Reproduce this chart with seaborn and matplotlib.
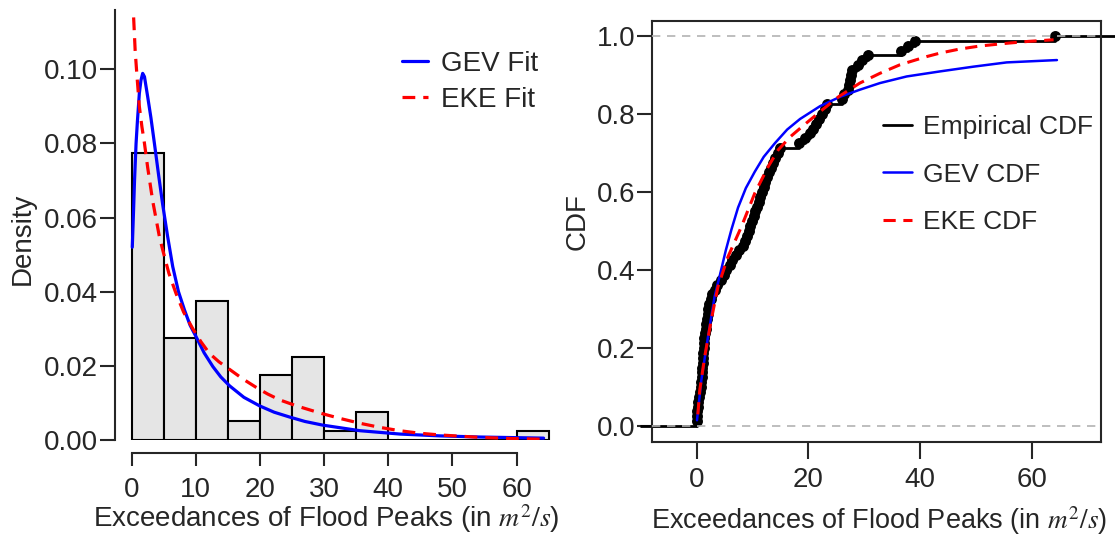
import numpy as np
import matplotlib
matplotlib.use("Agg")
import matplotlib.pyplot as plt
import seaborn as sns

flood_exceedances = [
    0.02, 0.04, 0.07, 0.17, 0.3, 0.45, 0.6, 0.75, 0.84, 0.9, 0.95, 1.02, 1.08,
    1.14, 1.2, 1.26, 1.32, 1.38, 1.45, 1.6, 1.72, 1.84, 1.96, 2.05, 2.25, 2.5,
    2.8, 3.2, 3.7, 4.3, 4.85,
    5.3, 5.9, 6.4, 7.0, 7.6, 8.2, 8.6, 9.0, 9.3, 9.6, 9.85,
    10.2, 10.5, 10.8, 11.1, 11.4, 11.7, 12.0, 12.3, 12.6, 12.9, 13.3, 13.7,
    14.1, 14.5, 14.9,
    18.3, 19.3,
    20.3, 20.9, 21.4, 21.9, 22.4, 22.9, 23.4,
    26.0, 26.4, 27.1, 27.3, 27.5, 27.6, 27.8, 28.8, 29.6,
    30.6,
    36.6, 37.9, 39.1,
    64.2,
]

# fitted densities
gev_pdf_x = [0.1, 0.3, 0.45, 0.69, 0.9, 1.2, 1.45, 1.72, 2.0, 2.5, 3.0, 3.55, 4.2,
             4.84, 5.6, 6.4, 7.3, 8.23, 9.1, 10.06, 11.3, 12.66, 13.9, 15.27, 17.5,
             19.95, 22.2, 24.6, 27.0, 29.8, 35.6, 41.8, 48.1, 54.3, 64.2]
gev_pdf_y = [0.052, 0.062, 0.070, 0.080, 0.086, 0.0935, 0.097, 0.0989, 0.098, 0.0926,
             0.087, 0.080, 0.0715, 0.0635, 0.055, 0.0468, 0.040, 0.0351, 0.031,
             0.0278, 0.0235, 0.0198, 0.0170, 0.0146, 0.0115, 0.0092, 0.0075, 0.0062,
             0.0050, 0.0040, 0.0025, 0.0016, 0.0011, 0.0008, 0.0005]
eke_pdf_x = [0.31, 0.55, 0.84, 1.2, 1.6, 2.0, 2.5, 3.28, 4.33, 4.84, 5.8, 6.9, 8.1,
             9.5, 10.8, 12.1, 13.6, 15.3, 17.3, 19.4, 21.2, 23.1, 25.7, 29.5, 32.5,
             35.6, 38.7, 41.8, 45.0, 48.1, 54.3, 59.0, 64.0]
eke_pdf_y = [0.114, 0.105, 0.098, 0.090, 0.0845, 0.080, 0.0735, 0.0645, 0.0548,
             0.0513, 0.0450, 0.0396, 0.0345, 0.0301, 0.0265, 0.0234, 0.0211, 0.0190,
             0.0165, 0.0142, 0.0124, 0.0108, 0.0092, 0.0072, 0.0058, 0.0045, 0.0034,
             0.0025, 0.0018, 0.00135, 0.0007, 0.0004, 0.0002]

# fitted CDFs
gev_cdf_x = [0.05, 0.83, 2.02, 3.2, 4.2, 5.2, 6.2, 7.4, 8.8, 10.4, 12.0, 14.0, 16.2,
             18.5, 22.1, 25.7, 29.2, 32.8, 37.6, 43.6, 49.5, 55.5, 64.5]
gev_cdf_y = [0.015, 0.118, 0.229, 0.332, 0.39, 0.45, 0.503, 0.56, 0.61, 0.652,
             0.69, 0.725, 0.76, 0.787, 0.82, 0.844, 0.862, 0.879, 0.896, 0.909,
             0.921, 0.932, 0.938]
eke_cdf_x = [0.2, 0.54, 1.43, 2.6, 3.8, 5.6, 8.0, 10.4, 12.8, 14.6, 16.8, 19.0,
             22.1, 25.4, 29.2, 32.8, 36.4, 41.2, 43.6, 47.0, 50.7, 55.5, 59.5, 63.9]
eke_cdf_y = [0.03, 0.092, 0.178, 0.272, 0.357, 0.434, 0.511, 0.597, 0.665, 0.708,
             0.742, 0.769, 0.806, 0.844, 0.879, 0.904, 0.926, 0.947, 0.956, 0.966,
             0.974, 0.981, 0.986, 0.990]

left_xticks = [0, 10, 20, 30, 40, 50, 60]
left_yticks = [0.00, 0.02, 0.04, 0.06, 0.08, 0.10]
right_xticks = [0, 20, 40, 60]
right_yticks = [0.0, 0.2, 0.4, 0.6, 0.8, 1.0]

xlabel_text = r"Exceedances of Flood Peaks (in $m^2/s$)"

sns.set_style("ticks")
plt.rcParams["font.family"] = ["Liberation Sans", "DejaVu Sans"]
plt.rcParams["mathtext.fontset"] = "stix"
plt.rcParams["axes.linewidth"] = 1.5

fig = plt.figure(figsize=(11.15, 5.35), dpi=100)
ax1 = fig.add_axes([0.1031, 0.1776, 0.3919, 0.8037])
ax2 = fig.add_axes([0.5845, 0.1744, 0.4030, 0.7870])

# ---- left: histogram + fitted densities
sns.histplot(x=flood_exceedances, stat="density", binwidth=5, binrange=(0, 65),
             color="#e5e5e5", edgecolor="black", linewidth=1.5, alpha=1, ax=ax1)
sns.lineplot(x=gev_pdf_x, y=gev_pdf_y, color="blue", lw=2.3, label="GEV Fit", ax=ax1)
sns.lineplot(x=eke_pdf_x, y=eke_pdf_y, color="red", lw=2.3,
             linestyle=(0, (4, 2.5)), label="EKE Fit", ax=ax1)

ax1.set_xlim(-2.6, 65.5)
ax1.set_ylim(0, 0.116)
ax1.set_xticks(left_xticks)
ax1.set_yticks(left_yticks)
ax1.spines["top"].set_visible(False)
ax1.spines["right"].set_visible(False)
ax1.spines["bottom"].set_position(("outward", 9.5))
ax1.spines["bottom"].set_bounds(0, 60)
ax1.spines["left"].set_bounds(0, 0.116)
ax1.tick_params(axis="both", direction="out", width=1.5, labelsize=20)
ax1.tick_params(axis="x", length=9, pad=8)
ax1.tick_params(axis="y", length=11, pad=1)
ax1.set_ylabel("Density", fontsize=20)
ax1.yaxis.set_label_coords(-0.181, 0.467)
ax1.set_xlabel(xlabel_text, fontsize=20)
ax1.xaxis.set_label_coords(0.483, -0.145)
ax1.legend(frameon=False, loc="upper left", bbox_to_anchor=(0.657, 0.905),
           fontsize=20, handlelength=0.95, handletextpad=0.45, labelspacing=0.35,
           borderpad=0, borderaxespad=0)

# ---- right: empirical CDF + fitted CDFs
ecdf_x = np.sort(flood_exceedances)
ecdf_y = np.arange(1, len(ecdf_x) + 1) / len(ecdf_x)

sns.ecdfplot(x=flood_exceedances, color="black", lw=2, ax=ax2, label="Empirical CDF")
ax2.hlines(0, -10.2, ecdf_x[0], color="black", lw=2, clip_on=False)
ax2.hlines(1, ecdf_x[-1], 80, color="black", lw=2, clip_on=False)
sns.scatterplot(x=ecdf_x, y=ecdf_y, color="black", s=62, linewidth=0, ax=ax2)
sns.lineplot(x=gev_cdf_x, y=gev_cdf_y, color="blue", lw=1.8, label="GEV CDF", ax=ax2)
sns.lineplot(x=eke_cdf_x, y=eke_cdf_y, color="red", lw=2.2,
             linestyle=(0, (4, 2.5)), label="EKE CDF", ax=ax2)
for level in (0, 1):
    ax2.axhline(level, color="#b3b3b3", lw=1.2, linestyle=(0, (5, 4)), zorder=5)

ax2.set_xlim(-8.06, 72.4)
ax2.set_ylim(-0.04, 1.039)
ax2.set_xticks(right_xticks)
ax2.set_yticks(right_yticks)
ax2.set_yticklabels([f"{v:.1f}" for v in right_yticks])
for side in ["top", "right", "bottom", "left"]:
    ax2.spines[side].set_visible(True)
    ax2.spines[side].set_linewidth(1.5)
ax2.tick_params(axis="both", direction="out", width=1.5, labelsize=20)
ax2.tick_params(axis="x", length=12, pad=6)
ax2.tick_params(axis="y", length=11, pad=1)
ax2.set_ylabel("CDF", fontsize=20)
ax2.yaxis.set_label_coords(-0.137, 0.522)
ax2.set_xlabel(xlabel_text, fontsize=19.5)
ax2.xaxis.set_label_coords(0.505, -0.148)
ax2.legend(frameon=False, loc="upper left", bbox_to_anchor=(0.515, 0.776),
           fontsize=19, handlelength=1.1, handletextpad=0.4, labelspacing=0.9,
           borderpad=0, borderaxespad=0)

fig.savefig("out.png", dpi=100)
plt.close(fig)
